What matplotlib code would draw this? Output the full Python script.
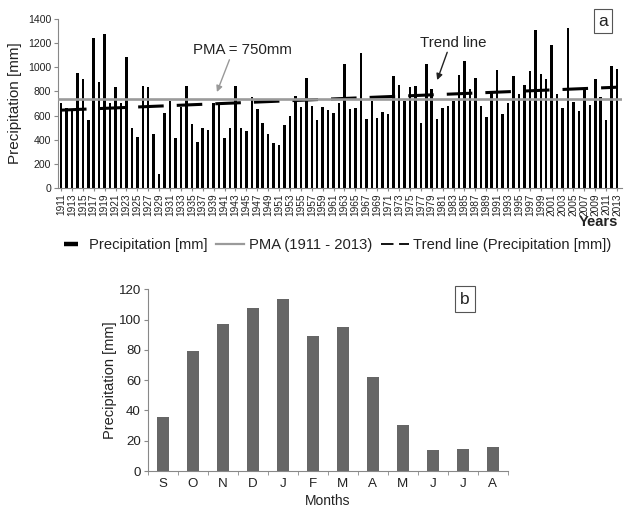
import matplotlib
matplotlib.use("Agg")
import matplotlib.pyplot as plt
from matplotlib.lines import Line2D

plt.rcParams['font.family'] = ['Liberation Sans', 'DejaVu Sans']
plt.rcParams['lines.scale_dashes'] = False

# ---- Data (panel a) ----
years = list(range(1911, 2014))
precip = [706, 659, 645, 955, 902, 560, 1245, 874, 1273, 700,
          833, 708, 1087, 501, 420, 844, 838, 451, 113, 625,
          722, 415, 672, 847, 528, 382, 498, 479, 706, 700,
          417, 498, 844, 501, 473, 755, 653, 542, 445, 376,
          354, 520, 595, 761, 672, 908, 681, 567, 672, 645,
          623, 706, 1026, 653, 664, 1121, 570, 722, 584, 631,
          617, 927, 852, 722, 838, 844, 542, 1030, 824, 570,
          660, 678, 720, 935, 1055, 818, 908, 678, 592, 786,
          975, 615, 703, 927, 777, 852, 971, 1309, 944, 902,
          1184, 777, 664, 1328, 714, 640, 816, 686, 902, 755,
          567, 1010, 982]
assert len(precip) == len(years)
pma_level = 735
trend_start = 645
trend_end = 835
year_ticks = list(range(1911, 2014, 2))
y_ticks_a = [0, 200, 400, 600, 800, 1000, 1200, 1400]

# ---- Data (panel b) ----
months = ['S', 'O', 'N', 'D', 'J', 'F', 'M', 'A', 'M', 'J', 'J', 'A']
monthly = [35.5, 79.3, 97.1, 107.7, 113.4, 89.2, 95.1, 61.9, 30.4, 13.9, 14.5, 16.1]
y_ticks_b = [0, 20, 40, 60, 80, 100, 120]

W, H = 629, 511
fig = plt.figure(figsize=(W / 100, H / 100), dpi=100)

def fx(px):
    return px / W

def fy(py):
    return 1 - py / H

txt_col = '#222222'
spine_col = '#888888'

# ---------- Panel a ----------
ax1 = fig.add_axes([fx(58), fy(188), fx(622) - fx(58), fy(19) - fy(188)])
ax1.bar(years, precip, width=0.46, color='black', zorder=2)
ax1.plot([years[0] - 0.5, years[-1] + 0.8], [pma_level, pma_level],
         color='#9a9a9a', lw=1.9, zorder=4)
ax1.plot([years[0], years[-1]], [trend_start, trend_end], color='black',
         lw=2.2, dashes=(18.4, 9.4), zorder=3)
ax1.set_xlim(1910.45, 2013.9)
ax1.set_ylim(0, 1400)
ax1.set_yticks(y_ticks_a)
ax1.set_xticks(year_ticks)
ax1.set_xticklabels([str(y) for y in year_ticks], rotation=90, fontsize=7.3,
                    color=txt_col)
ax1.tick_params(axis='y', labelsize=7.6, colors=txt_col, length=3,
                color=spine_col, pad=2)
ax1.tick_params(axis='x', length=2, color=spine_col, pad=2)
ax1.set_ylabel('Precipitation [mm]', fontsize=11, color=txt_col, labelpad=4)
for s in ['top', 'right']:
    ax1.spines[s].set_visible(False)
ax1.spines['left'].set_color(spine_col)
ax1.spines['bottom'].set_color(spine_col)
ax1.spines['left'].set_linewidth(0.8)
ax1.spines['bottom'].set_linewidth(0.8)

ax1.annotate('PMA = 750mm', xy=(1939.6, 795), xytext=(1935.2, 1143),
             fontsize=10.8, color=txt_col, va='center', ha='left',
             arrowprops=dict(arrowstyle='-|>', color='#999999', lw=1.0,
                             shrinkA=0, shrinkB=0, mutation_scale=9,
                             relpos=(0.38, 0.0)))
ax1.annotate('Trend line', xy=(1980.0, 894), xytext=(1976.9, 1205),
             fontsize=10.8, color=txt_col, va='center', ha='left',
             arrowprops=dict(arrowstyle='-|>', color='#222222', lw=1.0,
                             shrinkA=0, shrinkB=0, mutation_scale=9,
                             relpos=(0.42, 0.0)))

fig.text(fx(603), fy(21), 'a', fontsize=12.5, ha='center', va='center',
         color=txt_col,
         bbox=dict(boxstyle='square,pad=0.25', fc='white', ec='#555555', lw=0.8))
fig.text(fx(598), fy(222), 'Years', fontsize=10.5, fontweight='bold',
         ha='center', va='center', color=txt_col)

handles = [Line2D([], [], ls='none', marker='_', ms=10, mew=3.2, color='black'),
           Line2D([], [], color='#9a9a9a', lw=1.6),
           Line2D([], [], color='black', lw=1.3, dashes=(9, 4))]
labels = ['Precipitation [mm]', 'PMA (1911 - 2013)',
          'Trend line (Precipitation [mm])']
fig.legend(handles, labels, loc='center', bbox_to_anchor=(fx(334), fy(245)),
           ncol=3, frameon=False, fontsize=10.6, handlelength=1.9,
           handletextpad=0.3, columnspacing=0.6, labelcolor=txt_col,
           numpoints=1)

# ---------- Panel b ----------
ax2 = fig.add_axes([fx(147.7), fy(471), fx(507.7) - fx(147.7), fy(289.3) - fy(471)])
xpos = list(range(len(months)))
ax2.bar(xpos, monthly, width=0.41, color='#666666', zorder=2)
ax2.set_xlim(-0.5, len(months) - 0.5)
ax2.set_ylim(0, 120)
ax2.set_yticks(y_ticks_b)
ax2.set_xticks(xpos)
ax2.set_xticklabels(months, fontsize=9.6, color=txt_col)
ax2.set_xticks([i - 0.5 for i in range(len(months) + 1)], minor=True)
ax2.tick_params(axis='x', which='major', length=0, pad=5)
ax2.tick_params(axis='x', which='minor', length=3, color=spine_col)
ax2.tick_params(axis='y', labelsize=9.6, colors=txt_col, length=3,
                color=spine_col, pad=2)
ax2.set_ylabel('Precipitation [mm]', fontsize=10.5, color=txt_col, labelpad=1)
ax2.set_xlabel('Months', fontsize=10, color=txt_col, labelpad=3)
for s in ['top', 'right']:
    ax2.spines[s].set_visible(False)
ax2.spines['left'].set_color(spine_col)
ax2.spines['bottom'].set_color(spine_col)

fig.text(fx(465), fy(299), 'b', fontsize=12.5, ha='center', va='center',
         color=txt_col,
         bbox=dict(boxstyle='square,pad=0.3', fc='white', ec='#555555', lw=0.8))

fig.savefig('out.png', dpi=100)
